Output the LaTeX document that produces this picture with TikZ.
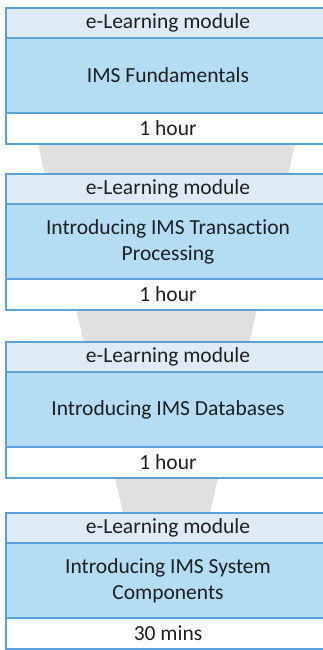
\documentclass[tikz,border=0pt]{standalone}
\usepackage{fontspec}
\setmainfont{Carlito}[Ligatures=NoCommon]
\usetikzlibrary{positioning}
\definecolor{edgeblue}{RGB}{91,160,220}
\definecolor{hdrfill}{RGB}{222,235,246}
\definecolor{bodyfill}{RGB}{180,220,242}
\definecolor{funnelgray}{RGB}{224,224,224}
\tikzset{
  cell/.style={draw=edgeblue,line width=1.6pt,rectangle,minimum width=324pt,
    outer sep=0pt,inner sep=0pt,text=black!88,align=center,
    font=\fontsize{21.5}{26}\selectfont},
  hdr/.style={cell,fill=hdrfill,minimum height=30pt,anchor=north west},
  body/.style={cell,fill=bodyfill,minimum height=75pt,below=0pt of #1},
  foot/.style={cell,fill=white,minimum height=31pt,below=0pt of #1}
}
\begin{document}
\begin{tikzpicture}[x=1pt,y=-1pt]
        \useasboundingbox (0,0) rectangle (323,650);
        %% Funnel behind the modules
        \fill[funnelgray] (6.4,7) -- (326.6,7) -- (178.4,650) -- (154.6,650) -- cycle;
        %% Module 1
        \node[hdr] (h1) at (6,8) {e-Learning module};
        \node[body=h1] (m1) {IMS Fundamentals};
        \node[foot=m1] (f1) {1 hour};
        %% Module 2
        \node[hdr] (h2) at (6,174) {e-Learning module};
        \node[body=h2] (m2) {Introducing IMS Transaction\\Processing};
        \node[foot=m2] (f2) {1 hour};
        %% Module 3
        \node[hdr] (h3) at (6,342) {e-Learning module};
        \node[body=h3] (m3) {Introducing IMS Databases};
        \node[foot=m3] (f3) {1 hour};
        %% Module 4
        \node[hdr] (h4) at (6,513) {e-Learning module};
        \node[body=h4] (m4) {Introducing IMS System\\Components};
        \node[foot=m4] (f4) {30 mins};
    \end{tikzpicture}
\end{document}
